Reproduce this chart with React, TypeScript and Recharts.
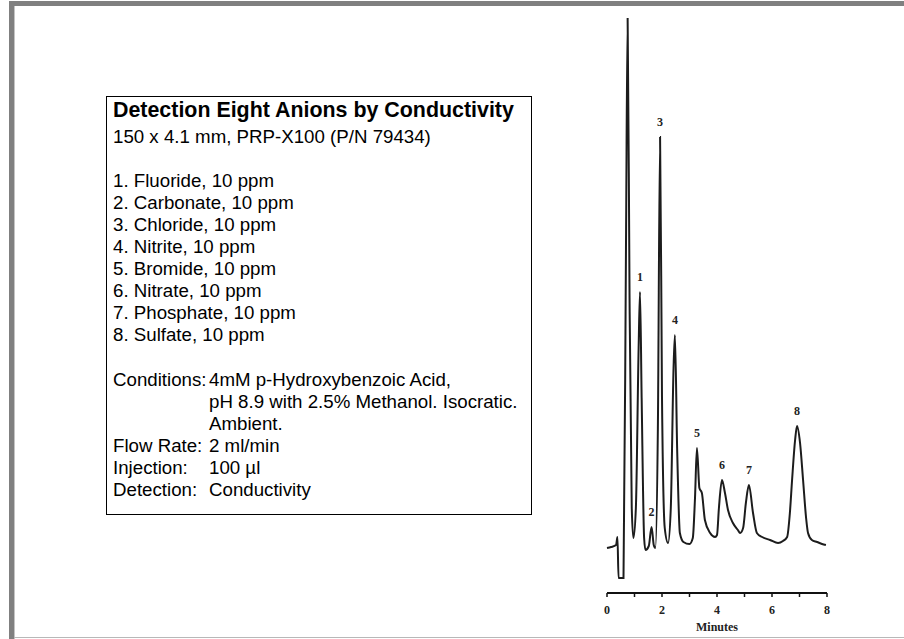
import { ComposedChart, Line, Scatter, XAxis, YAxis } from "recharts";

// retention time (min) and detector signal
const retention = [
  0, 0.15, 0.33, 0.38, 0.42, 0.6, 0.69, 0.75, 0.82, 0.9, 0.96, 1.05, 1.15, 1.2,
  1.26, 1.35, 1.4, 1.52, 1.62, 1.7, 1.76, 1.85, 1.93, 2.0, 2.1, 2.22, 2.32,
  2.42, 2.47, 2.55, 2.65, 2.78, 3.0, 3.12, 3.2, 3.27, 3.36, 3.45, 3.56, 3.75,
  3.93, 4.0, 4.07, 4.18, 4.29, 4.4, 4.58, 4.76, 4.84, 4.95, 5.05, 5.16, 5.31,
  5.45, 5.64, 5.93, 6.22, 6.4, 6.55, 6.65, 6.73, 6.84, 6.91, 7.02, 7.13, 7.24,
  7.31, 7.45, 7.64, 7.82, 7.96,
];
const signal = [
  0, 1, 3, 11, -30, -30, 300, 530, 250, 40, 10, 40, 200, 256, 150, 10, -2, 2,
  21, 3, 0, 120, 411, 150, 20, 5, 40, 180, 213, 100, 15, 6, 4, 10, 50, 100, 60,
  55, 28, 15, 11, 13, 40, 68, 55, 38, 25, 18, 15, 20, 45, 63, 35, 15, 11, 8, 5,
  7, 11, 35, 68, 108, 122, 105, 68, 30, 15, 8, 6, 4, 3,
];

const peakNames = ["1", "2", "3", "4", "5", "6", "7", "8"];
const peakTimes = [1.2, 1.62, 1.93, 2.47, 3.27, 4.18, 5.16, 6.91];
const peakHeights = [256, 21, 411, 213, 100, 68, 63, 122];

const minuteTicks = [0, 1, 2, 3, 4, 5, 6, 7, 8];

const analytes = [
  "1. Fluoride, 10 ppm",
  "2. Carbonate, 10 ppm",
  "3. Chloride, 10 ppm",
  "4. Nitrite, 10 ppm",
  "5. Bromide, 10 ppm",
  "6. Nitrate, 10 ppm",
  "7. Phosphate, 10 ppm",
  "8. Sulfate, 10 ppm",
];

const trace = retention.map((t, i) => ({ t, s: signal[i] }));
const peaks = peakNames.map((name, i) => ({
  t: peakTimes[i],
  s: peakHeights[i],
  name,
}));

const serif = "'Liberation Serif', 'Times New Roman', serif";

const PeakLabel = (props: any) => {
  const { cx, cy, payload } = props;
  return (
    <text
      x={cx}
      y={cy - 11}
      textAnchor="middle"
      fontFamily={serif}
      fontWeight="bold"
      fontSize={12}
      fill="#222"
    >
      {payload.name}
    </text>
  );
};

const Row = ({ label, value }: { label: string; value: string }) => (
  <div style={{ display: "flex" }}>
    <div style={{ width: 96, flexShrink: 0 }}>{label}</div>
    <div>{value}</div>
  </div>
);

export default function App() {
  return (
    <div
      style={{
        position: "absolute",
        left: 0,
        top: 0,
        width: 904,
        height: 639,
        background: "#fff",
        overflow: "hidden",
      }}
    >
      {/* frame */}
      <div style={{ position: "absolute", left: 9, top: 1, width: 895, height: 5, background: "#808080" }} />
      <div style={{ position: "absolute", left: 9, top: 1, width: 5, height: 638, background: "#808080" }} />
      <div style={{ position: "absolute", left: 14, top: 6, width: 1, height: 633, background: "#c4c4c4" }} />
      <div style={{ position: "absolute", left: 14, top: 637, width: 890, height: 1, background: "#b8b8b8" }} />

      {/* legend box */}
      <div
        style={{
          position: "absolute",
          left: 106,
          top: 96,
          width: 418,
          height: 417,
          border: "1px solid #000",
          padding: "0 0 0 6px",
          boxSizing: "content-box",
          fontFamily: "'Liberation Sans', Arial, sans-serif",
          fontSize: 18.7,
          lineHeight: "22px",
          color: "#000",
          whiteSpace: "nowrap",
        }}
      >
        <div style={{ fontSize: 21.4, fontWeight: "bold", lineHeight: "26px", marginBottom: 3 }}>
          Detection Eight Anions by Conductivity
        </div>
        <div>150 x 4.1 mm, PRP-X100 (P/N 79434)</div>
        <div style={{ height: 22 }} />
        {analytes.map((a) => (
          <div key={a}>{a}</div>
        ))}
        <div style={{ height: 23 }} />
        <Row label="Conditions:" value="4mM p-Hydroxybenzoic Acid," />
        <Row label="" value="pH 8.9 with 2.5% Methanol. Isocratic." />
        <Row label="" value="Ambient." />
        <Row label="Flow Rate:" value="2 ml/min" />
        <Row label="Injection:" value="100 µl" />
        <Row label="Detection:" value="Conductivity" />
      </div>

      {/* chromatogram */}
      <div style={{ position: "absolute", left: 560, top: 0 }}>
        <ComposedChart
          width={344}
          height={639}
          data={trace}
          margin={{ top: 18, right: 77, bottom: 6, left: 47 }}
        >
          <XAxis
            dataKey="t"
            type="number"
            domain={[0, 8]}
            ticks={minuteTicks}
            tickFormatter={(v: number) => (v % 2 === 0 ? String(v) : "")}
            height={40}
            tickSize={4}
            tickMargin={8}
            axisLine={{ stroke: "#111", strokeWidth: 2 }}
            tickLine={{ stroke: "#111", strokeWidth: 1.5 }}
            tick={{ fontFamily: serif, fontWeight: "bold", fontSize: 12, fill: "#222" }}
            label={{
              value: "Minutes",
              position: "insideBottom",
              offset: 2,
              style: { fontFamily: serif, fontWeight: "bold", fontSize: 12, fill: "#222" },
            }}
          />
          <YAxis type="number" domain={[-45, 530]} hide allowDataOverflow />
          <Line
            type="monotone"
            dataKey="s"
            stroke="#1c1c1c"
            strokeWidth={2}
            dot={false}
            activeDot={false}
            isAnimationActive={false}
          />
          <Scatter
            data={peaks}
            dataKey="s"
            shape={PeakLabel}
            isAnimationActive={false}
          />
        </ComposedChart>
      </div>
    </div>
  );
}
